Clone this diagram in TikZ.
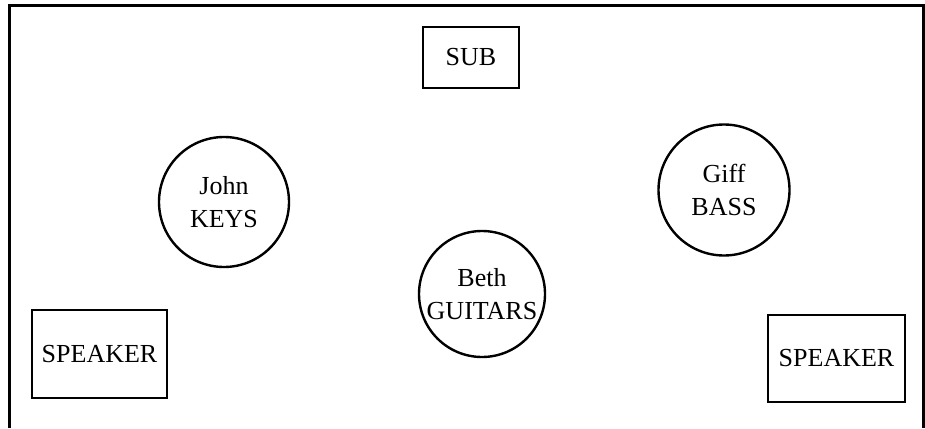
\documentclass[tikz,border=0pt]{standalone}
\usepackage{fontspec}
\setmainfont{Liberation Serif}
\usepackage{tikz}
\usetikzlibrary{positioning}

\tikzset{
  gear/.style={draw, line width=2.6pt, minimum width=#1, inner sep=0pt},
  player/.style={draw, circle, line width=2.4pt, align=center, inner sep=0pt},
}

\begin{document}
\begin{tikzpicture}[x=1pt, y=-1pt, font=\fontsize{26}{33}\selectfont]
        \useasboundingbox (0, 0) rectangle (925, 428);
        \draw[line width=3pt] (9, 428) -- (9, 5.5) -- (923, 5.5) -- (923, 428);

        \node[gear=96pt, minimum height=61pt](SUB) at (471, 57.5) {SUB};
        \node[gear=135pt, minimum height=88pt](SPKL) at (99.5, 354) {SPEAKER};
        \node[gear=137pt, minimum height=87pt](SPKR) at (836.5, 358.5) {SPEAKER};

        \node[player, minimum size=130pt](John) at (224, 202) {John\\KEYS};
        \node[player, minimum size=126pt](Beth) at (482, 294) {Beth\\GUITARS};
        \node[player, minimum size=131pt](Giff) at (724, 190) {Giff\\BASS};
      \end{tikzpicture}
\end{document}
